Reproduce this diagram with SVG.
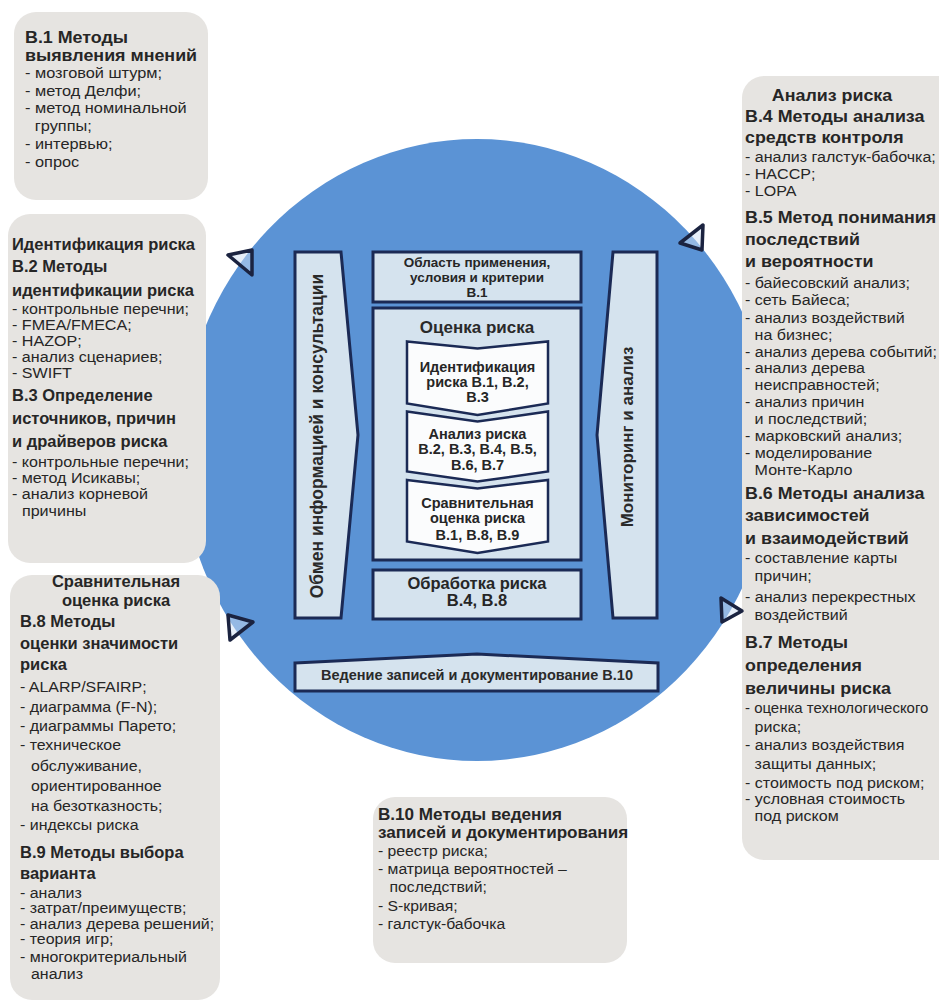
<svg xmlns="http://www.w3.org/2000/svg" width="939" height="1006" viewBox="0 0 939 1006">
<defs>
<style>
  .panel{fill:#e6e4e1}
  .cycle{fill:#5b93d5}
  .frame{fill:#d5e3ee;stroke:#1b2a55;stroke-width:3}
  .chev{fill:#fbfcfd;stroke:#1b2a55;stroke-width:2.5;stroke-linejoin:miter}
  .tick{fill:#cfe0f4;fill-opacity:.5;stroke:#1b2340;stroke-width:3.5;stroke-linejoin:round}
  text{font-family:"Liberation Sans",Arial,Helvetica,sans-serif;fill:#262626}
  .h{font-weight:bold}
  .c{text-anchor:middle;font-weight:bold;fill:#2a2a2a}
</style>
</defs>
<rect width="939" height="1006" fill="#ffffff"/>

<!-- process cycle background -->
<g id="cycle">
  <ellipse class="cycle" cx="477" cy="450" rx="296" ry="311"/>
</g>

<!-- B.1 elicitation methods -->
<g id="box-b1">
  <rect class="panel" x="14" y="12" width="194" height="188" rx="22"/>
  <g class="h" font-size="17" transform="matrix(1.05 0 0 1 -1.25 0)">
    <text x="25" y="43">В.1 Методы</text>
    <text x="25" y="61">выявления мнений</text>
  </g>
  <g font-size="15" transform="matrix(1.09 0 0 1 -2.25 0)">
    <text x="25" y="78.5">- мозговой штурм;</text>
    <text x="25" y="96.5">- метод Делфи;</text>
    <text x="25" y="113.5">- метод номинальной</text>
    <text x="34" y="131.5">группы;</text>
    <text x="25" y="149.5">- интервью;</text>
    <text x="25" y="167.5">- опрос</text>
  </g>
</g>

<!-- B.2 / B.3 identification methods -->
<g id="box-b2-b3">
  <rect class="panel" x="8" y="214" width="198" height="349" rx="22"/>
  <g class="h" font-size="16.5">
    <text x="12" y="250">Идентификация риска</text>
    <text x="12" y="272">В.2 Методы</text>
    <text x="12" y="296">идентификации риска</text>
    <text x="12" y="401">В.3 Определение</text>
    <text x="12" y="424">источников, причин</text>
    <text x="12" y="447">и драйверов риска</text>
  </g>
  <g font-size="14.5" transform="matrix(1.11 0 0 1 -1.32 0)">
    <text x="12" y="314.5">- контрольные перечни;</text>
    <text x="12" y="330.5">- FMEA/FMECA;</text>
    <text x="12" y="346">- HAZOP;</text>
    <text x="12" y="362">- анализ сценариев;</text>
    <text x="12" y="378">- SWIFT</text>
    <text x="12" y="467.5">- контрольные перечни;</text>
    <text x="12" y="483.5">- метод Исикавы;</text>
    <text x="12" y="499">- анализ корневой</text>
    <text x="21" y="516">причины</text>
  </g>
</g>

<!-- B.8 / B.9 evaluation and selection methods -->
<g id="box-b8-b9">
  <rect class="panel" x="10" y="575" width="210" height="425" rx="22"/>
  <g class="h" font-size="16.5">
    <text x="116" y="587" text-anchor="middle">Сравнительная</text>
    <text x="116" y="606" text-anchor="middle">оценка риска</text>
    <text x="20" y="627">В.8 Методы</text>
    <text x="20" y="649">оценки значимости</text>
    <text x="20" y="670">риска</text>
    <text x="20" y="858">В.9 Методы выбора</text>
    <text x="20" y="879">варианта</text>
  </g>
  <g font-size="14.5" transform="matrix(1.1 0 0 1 -2 0)">
    <text x="20" y="692.5">- ALARP/SFAIRP;</text>
    <text x="20" y="712">- диаграмма (F-N);</text>
    <text x="20" y="731.5">- диаграммы Парето;</text>
    <text x="20" y="750.5">- техническое</text>
    <text x="30" y="771.5">обслуживание,</text>
    <text x="30" y="791.5">ориентированное</text>
    <text x="30" y="811">на безотказность;</text>
    <text x="20" y="830.5">- индексы риска</text>
    <text x="20" y="898">- анализ</text>
    <text x="20" y="913.5">- затрат/преимуществ;</text>
    <text x="20" y="929">- анализ дерева решений;</text>
    <text x="20" y="944.5">- теория игр;</text>
    <text x="20" y="962">- многокритериальный</text>
    <text x="30" y="979.5">анализ</text>
  </g>
</g>

<!-- B.4 .. B.7 analysis methods -->
<g id="box-b4-b7">
  <rect class="panel" x="742" y="76" width="220" height="784" rx="22"/>
  <g class="h" font-size="17" transform="matrix(1.05 0 0 1 -37.25 0)">
    <text x="827.9" y="101" text-anchor="middle">Анализ риска</text>
    <text x="745" y="122">В.4 Методы анализа</text>
    <text x="745" y="143">средств контроля</text>
    <text x="745" y="223">В.5 Метод понимания</text>
    <text x="745" y="245">последствий</text>
    <text x="745" y="267">и вероятности</text>
    <text x="745" y="499">В.6 Методы анализа</text>
    <text x="745" y="521">зависимостей</text>
    <text x="745" y="544">и взаимодействий</text>
    <text x="745" y="648">В.7 Методы</text>
    <text x="745" y="671">определения</text>
    <text x="745" y="694">величины риска</text>
  </g>
  <g font-size="15" transform="matrix(1.07 0 0 1 -52.15 0)">
    <text x="745" y="162.5">- анализ галстук-бабочка;</text>
    <text x="745" y="179.5">- HACCP;</text>
    <text x="745" y="196.5">- LOPA</text>
    <text x="745" y="288.5">- байесовский анализ;</text>
    <text x="745" y="305.5">- сеть Байеса;</text>
    <text x="745" y="323">- анализ воздействий</text>
    <text x="754" y="340">на бизнес;</text>
    <text x="745" y="357">- анализ дерева событий;</text>
    <text x="745" y="373.5">- анализ дерева</text>
    <text x="754" y="390.5">неисправностей;</text>
    <text x="745" y="407.5">- анализ причин</text>
    <text x="754" y="424.5">и последствий;</text>
    <text x="745" y="441.5">- марковский анализ;</text>
    <text x="745" y="458.5">- моделирование</text>
    <text x="754" y="475.5">Монте-Карло</text>
    <text x="745" y="563.5">- составление карты</text>
    <text x="754" y="581.5">причин;</text>
    <text x="745" y="602.5">- анализ перекрестных</text>
    <text x="754" y="620.5">воздействий</text>
    <text x="745" y="713.5" font-size="14">- оценка технологического</text>
    <text x="754" y="732.5">риска;</text>
    <text x="745" y="750.5">- анализ воздействия</text>
    <text x="754" y="769.5">защиты данных;</text>
    <text x="745" y="788.5">- стоимость под риском;</text>
    <text x="745" y="804.5">- условная стоимость</text>
    <text x="754" y="821.5">под риском</text>
  </g>
</g>

<!-- B.10 recording methods -->
<g id="box-b10">
  <rect class="panel" x="373" y="797" width="254" height="166" rx="22"/>
  <g class="h" font-size="16" transform="matrix(1.07 0 0 1 -26.46 0)">
    <text x="378" y="820">В.10 Методы ведения</text>
    <text x="378" y="838">записей и документирования</text>
  </g>
  <g font-size="15" transform="matrix(1.05 0 0 1 -18.9 0)">
    <text x="378" y="856.5">- реестр риска;</text>
    <text x="378" y="874.5">- матрица вероятностей –</text>
    <text x="389" y="892.5">последствий;</text>
    <text x="378" y="911.5">- S-кривая;</text>
    <text x="378" y="929.5">- галстук-бабочка</text>
  </g>
</g>

<!-- process elements inside the cycle -->
<g id="node-communication">
  <polygon class="frame" points="295,252 341,252 358,435 341,618 295,618"/>
  <text class="c" font-size="17.5" transform="translate(323,436) rotate(-90)">Обмен информацией и консультации</text>
</g>
<g id="node-monitoring">
  <polygon class="frame" points="613,252 657,252 657,618 613,618 597,435"/>
  <text class="c" font-size="17" transform="translate(632.5,437) rotate(-90)">Мониторинг и анализ</text>
</g>
<g id="node-scope">
  <rect class="frame" x="373" y="252" width="208" height="50"/>
  <g class="c" font-size="13.5">
    <text x="477" y="266.5">Область применения,</text>
    <text x="477" y="281.5">условия и критерии</text>
    <text x="477" y="296.5">В.1</text>
  </g>
</g>
<g id="node-assessment">
  <rect class="frame" x="373" y="308" width="208" height="252" stroke-width="3.5"/>
  <text class="c" font-size="17" x="477" y="332.5">Оценка риска</text>
</g>
<g id="node-identification">
  <polygon class="chev" points="407,341.5 477.5,348.5 548,341.5 548,403.5 477.5,415 407,403.5"/>
  <g class="c" font-size="14.5">
    <text x="477.5" y="371.5">Идентификация</text>
    <text x="477.5" y="386.5">риска В.1, В.2,</text>
    <text x="477.5" y="401.5">В.3</text>
  </g>
</g>
<g id="node-analysis">
  <polygon class="chev" points="407,411.5 477.5,421.5 548,411.5 548,471.5 477.5,481.5 407,471.5"/>
  <g class="c" font-size="14.5">
    <text x="477.5" y="438.5">Анализ риска</text>
    <text x="477.5" y="453.5">В.2, В.3, В.4, В.5,</text>
    <text x="477.5" y="470">В.6, В.7</text>
  </g>
</g>
<g id="node-evaluation">
  <polygon class="chev" points="407,480 477.5,488.5 548,480 548,541.5 477.5,553 407,541.5"/>
  <g class="c" font-size="14.5">
    <text x="477.5" y="508">Сравнительная</text>
    <text x="477.5" y="523">оценка риска</text>
    <text x="477.5" y="540">В.1, В.8, В.9</text>
  </g>
</g>
<g id="node-treatment">
  <rect class="frame" x="373" y="570" width="208" height="49"/>
  <g class="c" font-size="16.5">
    <text x="477" y="589">Обработка риска</text>
    <text x="477" y="606">В.4, В.8</text>
  </g>
</g>
<g id="node-recording">
  <polygon class="frame" points="295,663 477,654 658,663 658,691 295,691"/>
  <text class="c" font-size="14.5" x="477" y="680">Ведение записей и документирование В.10</text>
</g>

<!-- direction marks around the cycle -->
<g id="connectors">
  <polygon class="tick" points="228,255 252,250 252,275"/>
  <polygon class="tick" points="680,243 703,225 702,250"/>
  <polygon class="tick" points="721,598 722,622 742,611"/>
  <polygon class="tick" points="228,615 230,640 253,622"/>
</g>
</svg>
